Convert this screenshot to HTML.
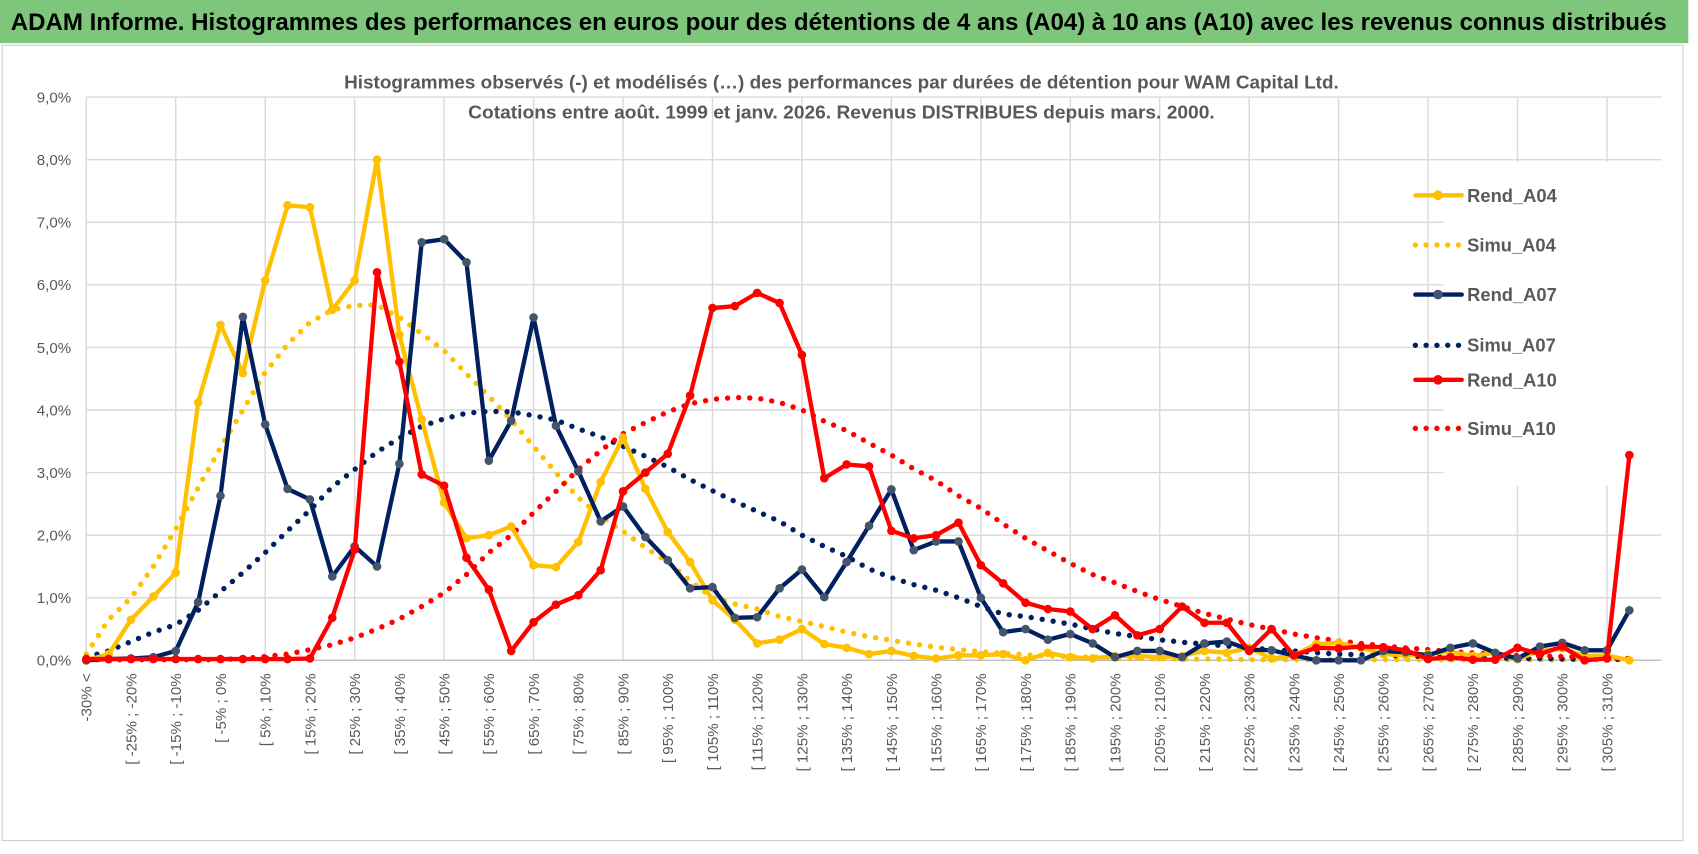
<!DOCTYPE html>
<html><head><meta charset="utf-8"><style>
body{margin:0;background:#fff;}
svg{display:block;font-family:"Liberation Sans",sans-serif;}
</style></head><body>
<svg id="chart" width="1698" height="854" viewBox="0 0 1574 791.5" preserveAspectRatio="none">
<rect x="0" y="0" width="1565" height="40" fill="#7DC67B"/>
<text x="10" y="28" font-size="22" font-weight="bold" fill="#000" textLength="1535" lengthAdjust="spacingAndGlyphs">ADAM Informe. Histogrammes des performances en euros pour des détentions de 4 ans (A04) à 10 ans (A10) avec les revenus connus distribués</text>
<rect x="2" y="42" width="1558" height="737" fill="none" stroke="#d0d0d0"/>
<g id="grid"></g>
<rect x="1338" y="150" width="205" height="300" fill="#fff"/>
<text x="780" y="82" text-anchor="middle" font-size="17" font-weight="bold" fill="#595959" textLength="922" lengthAdjust="spacingAndGlyphs">Histogrammes observés (-) et modélisés (…) des performances par durées de détention pour WAM Capital Ltd.</text>
<text x="780" y="110" text-anchor="middle" font-size="17" font-weight="bold" fill="#595959" textLength="692" lengthAdjust="spacingAndGlyphs">Cotations entre août. 1999 et janv. 2026. Revenus DISTRIBUES depuis mars. 2000.</text>
<g id="series"></g>
<g id="legend"></g>
</svg>
<script>
const categories = ["-30% <"];
const lows = [];
for (let k = -30; k <= 310; k += 5) lows.push(k);
const rendA04 = [0,0.1,0.65,1.02,1.4,4.12,5.36,4.59,6.07,7.27,7.24,5.6,6.07,8.0,5.2,3.85,2.52,1.95,2.0,2.14,1.52,1.49,1.89,2.85,3.56,2.74,2.05,1.57,0.96,0.65,0.27,0.33,0.5,0.26,0.2,0.1,0.15,0.07,0.03,0.08,0.08,0.1,0,0.12,0.05,0.03,0.07,0.07,0.05,0.07,0.15,0.12,0.2,0.03,0.08,0.26,0.28,0.2,0.1,0.08,0.1,0.14,0.07,0.12,0.02,0.15,0.19,0.07,0.08,0];
const simuA04 = [0.1,0.65,1.0,1.5,2.1,2.76,3.4,4.0,4.6,5.05,5.4,5.6,5.67,5.68,5.48,5.22,4.95,4.58,4.22,3.84,3.42,3.0,2.6,2.3,2.06,1.8,1.57,1.27,1.0,0.9,0.82,0.7,0.62,0.54,0.45,0.38,0.32,0.26,0.21,0.17,0.14,0.11,0.09,0.07,0.06,0.05,0.04,0.03,0.03,0.02,0.02,0.02,0.01,0.01,0.01,0.01,0.01,0.01,0.01,0.01,0.01,0.01,0.01,0.01,0.01,0.01,0.01,0.01,0.01,0.01];
const rendA07 = [0,0.02,0.03,0.05,0.15,0.93,2.63,5.49,3.77,2.74,2.57,1.34,1.82,1.5,3.14,6.68,6.73,6.36,3.19,3.83,5.48,3.75,3.02,2.22,2.46,1.97,1.6,1.15,1.17,0.68,0.69,1.15,1.45,1.01,1.57,2.15,2.73,1.76,1.9,1.9,1.0,0.45,0.5,0.33,0.42,0.27,0.05,0.15,0.15,0.05,0.27,0.3,0.17,0.16,0.08,0,0,0,0.15,0.13,0.08,0.2,0.27,0.12,0.03,0.22,0.28,0.16,0.16,0.8];
const simuA07 = [0.05,0.15,0.3,0.45,0.57,0.8,1.1,1.4,1.72,2.07,2.4,2.77,3.05,3.33,3.55,3.74,3.86,3.95,3.98,3.97,3.91,3.84,3.7,3.57,3.42,3.26,3.09,2.89,2.71,2.54,2.38,2.22,2.0,1.82,1.66,1.46,1.32,1.21,1.12,1.0,0.86,0.74,0.7,0.64,0.58,0.5,0.43,0.38,0.33,0.29,0.26,0.23,0.2,0.17,0.15,0.12,0.1,0.09,0.08,0.07,0.06,0.05,0.04,0.04,0.03,0.03,0.02,0.02,0.02,0.01];
const rendA10 = [0.02,0.02,0.02,0.02,0.02,0.02,0.02,0.02,0.02,0.02,0.03,0.68,1.77,6.2,4.77,2.97,2.79,1.64,1.13,0.15,0.61,0.89,1.04,1.44,2.7,3.0,3.3,4.23,5.63,5.66,5.87,5.71,4.88,2.91,3.13,3.1,2.07,1.95,2.0,2.2,1.52,1.23,0.92,0.82,0.78,0.5,0.72,0.4,0.5,0.86,0.6,0.6,0.15,0.5,0.08,0.2,0.19,0.22,0.21,0.16,0.02,0.05,0.01,0.01,0.2,0.1,0.22,0.0,0.03,3.28];
const simuA10 = [0.01,0.01,0.01,0.01,0.01,0.01,0.01,0.03,0.06,0.1,0.17,0.25,0.36,0.5,0.66,0.86,1.08,1.37,1.72,2.0,2.36,2.7,3.05,3.35,3.62,3.8,3.97,4.1,4.17,4.2,4.19,4.12,4.0,3.82,3.67,3.47,3.28,3.06,2.87,2.63,2.43,2.18,1.95,1.75,1.55,1.37,1.24,1.1,0.97,0.86,0.75,0.66,0.57,0.5,0.42,0.36,0.31,0.27,0.23,0.2,0.17,0.14,0.12,0.1,0.08,0.07,0.06,0.05,0.04,0.03];
const yTicks = ["0,0%","1,0%","2,0%","3,0%","4,0%","5,0%","6,0%","7,0%","8,0%","9,0%"];

for (let i = 1; i < 70; i++) categories.push("[ " + lows[i-1] + "% ; " + (lows[i-1]+5) + "%");

const NS = "http://www.w3.org/2000/svg";
const X0 = 80, DX = 20.73, Y0 = 612, DY = 58;
function xs(i){ return X0 + DX * i; }
function ys(v){ return Y0 - DY * v; }
function mk(tag, attrs, parent){
  const e = document.createElementNS(NS, tag);
  for (const k in attrs) e.setAttribute(k, attrs[k]);
  parent.appendChild(e); return e;
}
const grid = document.getElementById('grid');
const PR = 1540;
yTicks.forEach((t, k) => {
  const y = ys(k);
  const l = mk('line', {x1: X0, x2: PR, y1: y, y2: y, stroke: '#d9d9d9', 'stroke-width': 1.3}, grid);
  
  
  const tx = mk('text', {x: 66, y: y + 5, 'text-anchor': 'end', 'font-size': 14, fill: '#595959'}, grid);
  tx.textContent = t;
  
  
});
for (let i = 0; i < 70; i += 4) {
  const l = mk('line', {x1: xs(i), x2: xs(i), y1: ys(9), y2: Y0, stroke: '#d9d9d9', 'stroke-width': 1.3}, grid);
  
  
}
const ax = mk('line', {x1: X0, x2: PR, y1: Y0, y2: Y0, stroke: '#bfbfbf', 'stroke-width': 1.3}, grid);


categories.forEach((c, i) => {
  if (i % 2) return;
  const x = xs(i) + 5, y = 624;
  const t = mk('text', {x: x, y: y, transform: `rotate(-90 ${x} ${y})`, 'text-anchor': 'end', 'font-size': 14, fill: '#595959'}, grid);
  t.textContent = c;
  
  
});

const series = [
  {name: 'Rend_A04', data: rendA04, color: '#FFC000', dot: false, marker: '#FFC000'},
  {name: 'Simu_A04', data: simuA04, color: '#FFC000', dot: true},
  {name: 'Rend_A07', data: rendA07, color: '#002060', dot: false, marker: '#44546A'},
  {name: 'Simu_A07', data: simuA07, color: '#002060', dot: true},
  {name: 'Rend_A10', data: rendA10, color: '#FF0000', dot: false, marker: '#FF0000'},
  {name: 'Simu_A10', data: simuA10, color: '#FF0000', dot: true}
];
const sg = document.getElementById('series');
const order = [1,3,5,0,2,4];
order.forEach(si => {
  const s = series[si];
  const pts = s.data.map((v, i) => xs(i).toFixed(1) + ',' + ys(v).toFixed(1)).join(' ');
  const attrs = {points: pts, fill: 'none', stroke: s.color, 'stroke-width': 4, 'stroke-linejoin': 'round', 'stroke-linecap': 'round'};
  if (s.dot) { attrs['stroke-dasharray'] = '0 10.3'; attrs['stroke-width'] = 5; }
  const p = mk('polyline', attrs, sg);
  
  
  if (!s.dot) {
    s.data.forEach((v, i) => {
      const c = mk('circle', {cx: xs(i), cy: ys(v), r: 4, fill: s.marker}, sg);
      
      
    });
  }
});

const lg = document.getElementById('legend');
const ly = [181, 227, 273, 320, 352, 397];
series.forEach((s, k) => {
  const y = ly[k];
  const attrs = {x1: 1312, x2: 1355, y1: y, y2: y, stroke: s.color, 'stroke-width': 4, 'stroke-linecap': 'round'};
  if (s.dot) { attrs['stroke-dasharray'] = '0 10'; attrs['stroke-width'] = 5; }
  const l = mk('line', attrs, lg);
  
  
  if (!s.dot) {
    const c = mk('circle', {cx: 1333, cy: y, r: 4.5, fill: s.marker}, lg);
    
    
  }
  const t = mk('text', {x: 1360, y: y + 6, 'font-size': 17, 'font-weight': 'bold', fill: '#595959'}, lg);
  t.textContent = s.name;
  
  
});
</script>
</body></html>
